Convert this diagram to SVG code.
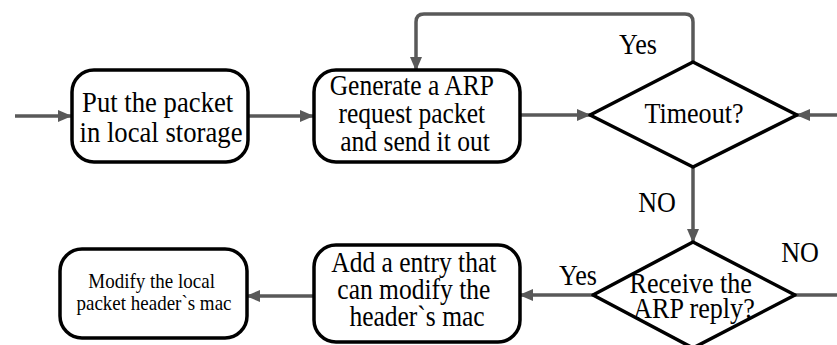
<svg xmlns="http://www.w3.org/2000/svg" width="837" height="345" viewBox="0 0 837 345">
  <defs>
    <marker id="arrow" markerUnits="userSpaceOnUse" markerWidth="14" markerHeight="12" refX="13" refY="6" orient="auto">
      <path d="M0,0 L14,6 L0,12 Z" fill="#595959"/>
    </marker>
  </defs>
  <style>
    .node { fill: #ffffff; stroke: #000000; stroke-width: 3.5; stroke-linejoin: round; }
    .edge { fill: none; stroke: #595959; stroke-width: 3.5; }
    .arrow { marker-end: url(#arrow); }
    .big { font-size: 29px; }
    .small { font-size: 20px; }
  </style>

  <rect width="837" height="345" fill="#ffffff"/>

  <g font-family="'Liberation Serif', 'DejaVu Serif', serif" text-anchor="middle" fill="#000000">
  <!-- connectors and their labels -->
  <g id="connectors">
    <path class="edge arrow" d="M15,116 L71,116"/>
    <path class="edge arrow" d="M249,116 L313,116"/>
    <path class="edge arrow" d="M520,115 L590,115"/>
    <path class="edge arrow" d="M837,115 L797,115"/>
    <path class="edge arrow" d="M693,62 L693,22 Q693,14 685,14 L424,14 Q416,14 416,22 L416,70"/>
    <path class="edge arrow" d="M693,167 L693,242"/>
    <path class="edge arrow" d="M593,295 L520,295"/>
    <path class="edge" d="M795,295 L837,295"/>
    <path class="edge arrow" d="M313,296 L247,296"/>
    <text class="big" transform="translate(638,54) scale(0.9,1)">Yes</text>
    <text class="big" transform="translate(657,212) scale(0.9,1)">NO</text>
    <text class="big" transform="translate(800,262) scale(0.9,1)">NO</text>
    <text class="big" transform="translate(578,285) scale(0.9,1)">Yes</text>
  </g>

  <g id="put-packet">
    <rect class="node" x="72" y="70" width="176" height="92" rx="22"/>
    <text class="big" transform="translate(161,112) scale(0.92,1)">
      <tspan x="0" y="0">Put the packet</tspan>
      <tspan x="0" y="30">in local storage</tspan>
    </text>
  </g>

  <g id="generate-arp">
    <rect class="node" x="314" y="70" width="206" height="92" rx="22"/>
    <text class="big" transform="translate(415,95) scale(0.88,1)">
      <tspan x="0" y="0">Generate a ARP</tspan>
      <tspan x="0" y="28">request packet</tspan>
      <tspan x="0" y="56">and send it out</tspan>
    </text>
  </g>

  <g id="timeout">
    <polygon class="node" points="693,62 797,115 693,167 590,115"/>
    <text class="big" transform="translate(694,123) scale(0.9,1)">Timeout?</text>
  </g>

  <g id="receive-reply">
    <polygon class="node" points="693,242 795,295 693,348 593,295"/>
    <text class="big" transform="translate(694,293) scale(0.9,1)">
      <tspan x="0" y="0">Receive the</tspan>
      <tspan x="0" y="25">ARP reply?</tspan>
    </text>
  </g>

  <g id="add-entry">
    <rect class="node" x="314" y="245" width="206" height="97" rx="22"/>
    <text class="big" transform="translate(417,272) scale(0.88,1)">
      <tspan x="0" y="0">Add a entry that</tspan>
      <tspan x="0" y="27">can modify the</tspan>
      <tspan x="0" y="54">header`s mac</tspan>
    </text>
  </g>

  <g id="modify-mac">
    <rect class="node" x="60" y="249" width="187" height="89" rx="22"/>
    <text class="small" transform="translate(154,288) scale(0.95,1)">
      <tspan x="0" y="0">Modify the local</tspan>
      <tspan x="0" y="22">packet header`s mac</tspan>
    </text>
  </g>
  </g>
</svg>
